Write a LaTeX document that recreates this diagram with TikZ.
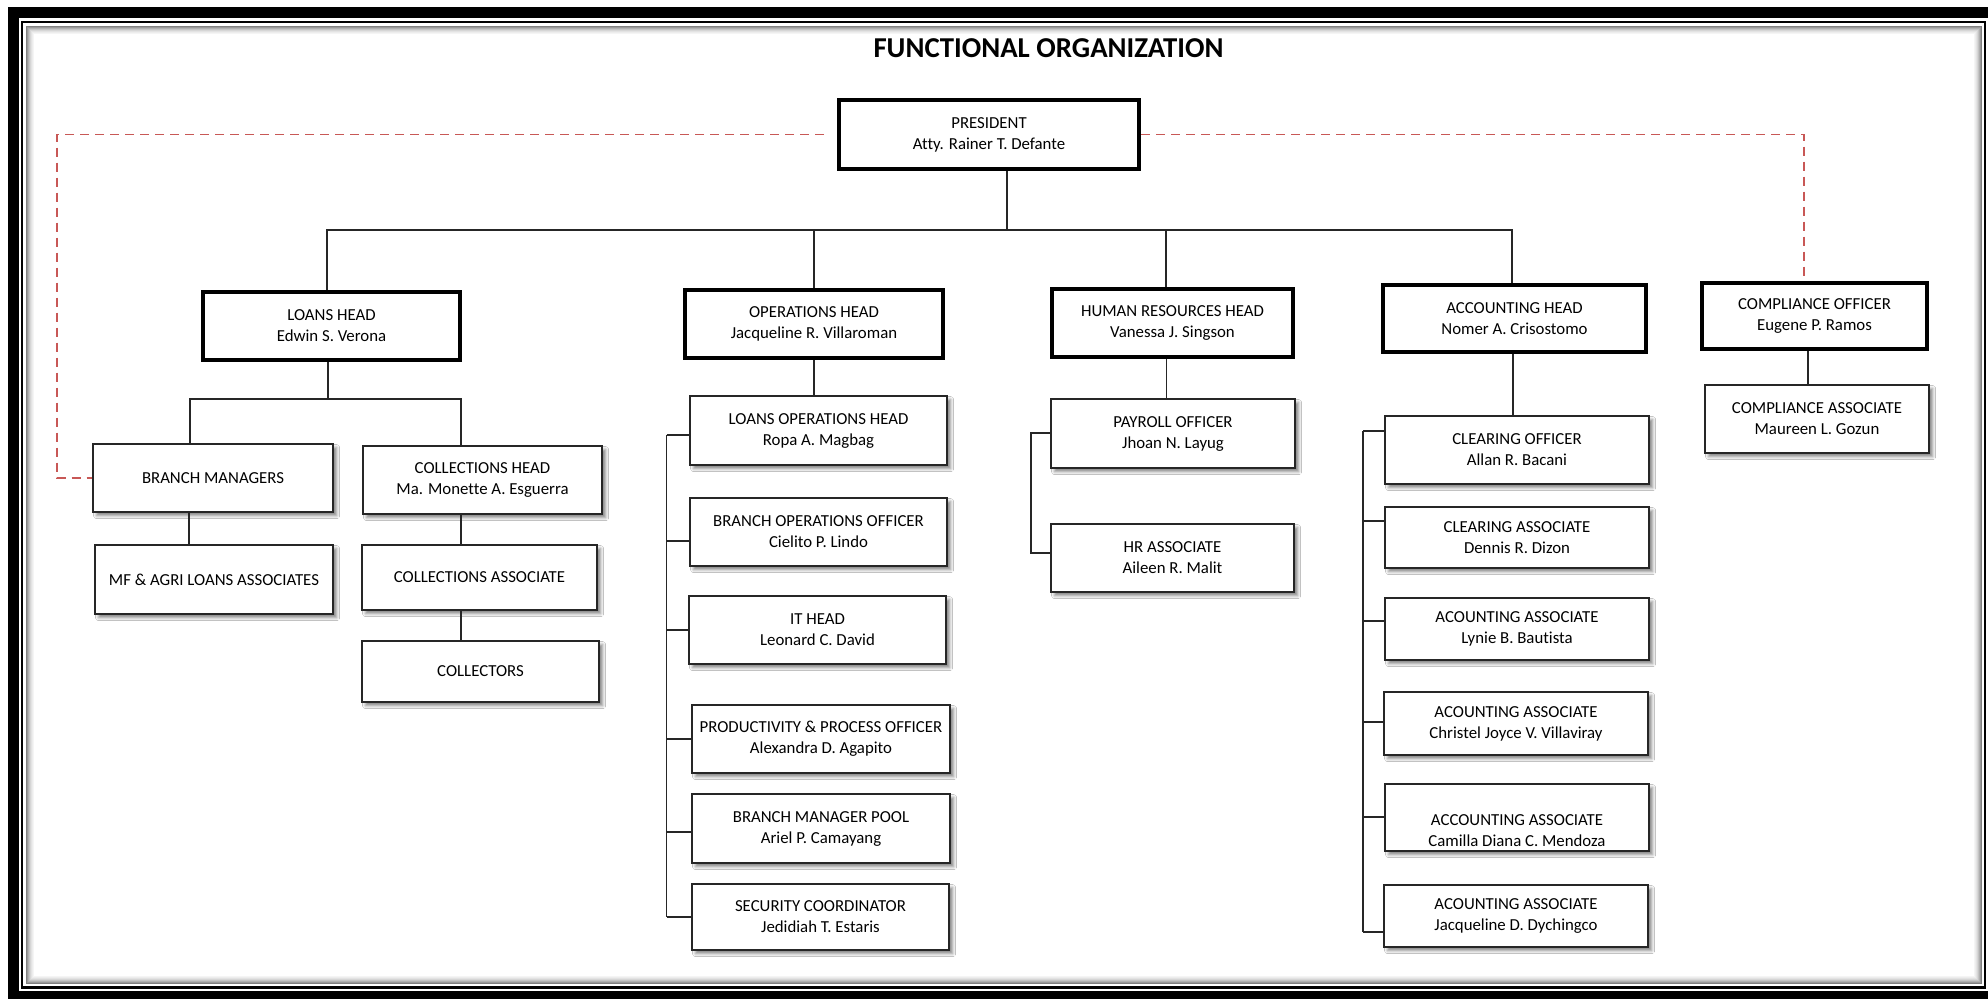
\documentclass[tikz,border=0pt]{standalone}
\usepackage{fontspec}
\setmainfont{Carlito}[Ligatures=NoCommon]
\usetikzlibrary{calc,shadows.blur}
\definecolor{rdcol}{RGB}{200,88,86}
\newcommand\bxfont{\fontsize{8.4}{10.5}\selectfont}
\newcommand\ttlfont{\bfseries\fontsize{14.4}{17}\selectfont}
\newcommand\hbx[6]{%
  \pgfmathsetmacro\bw{(#4-#2)/2-1.8}%
  \pgfmathsetmacro\bh{(#5-#3)/2-1.8}%
  \node[hbox, minimum width=\bw pt, minimum height=\bh pt] (#1) at ({(#2+#4)/2},{(#3+#5)/2}) {#6};}
\newcommand\rbx[6]{%
  \pgfmathsetmacro\bw{(#4-#2)/2-0.8}%
  \pgfmathsetmacro\bh{(#5-#3)/2-0.8}%
  \node[rbox, minimum width=\bw pt, minimum height=\bh pt] (#1) at ({(#2+#4)/2},{(#3+#5)/2}) {#6};}
\tikzset{
  hbox/.style={draw=black, line width=1.8pt, fill=white, align=center, inner sep=0pt, font=\bxfont},
  rbox/.style={draw=black!85, line width=0.8pt, fill=white, align=center, inner sep=0pt, font=\bxfont,
    blur shadow={shadow xshift=1.8pt, shadow yshift=-1.8pt, shadow blur radius=1.4pt, shadow opacity=45}},
  conn/.style={draw=black!85, line width=0.65pt},
  rdash/.style={draw=rdcol, line width=0.75pt, dash pattern=on 4.5pt off 3pt},
  framethick/.style={draw=black, line width=5.5pt},
  framethin/.style={draw=black, line width=1.25pt},
}
\begin{document}
\begin{tikzpicture}[x=0.5pt, y=-0.5pt]
\useasboundingbox (0,0) rectangle (1988,998);
\fill[white] (0,0) rectangle (1988,998);
% ---------- frame ----------
\begin{scope}
  \clip (0,0) rectangle (1988,998);
  \draw[framethick] (13.5,12.5) rectangle (1993.5,996.5);
  \draw[framethin] (22,22) rectangle (1985,987.5);
  \foreach \d/\g in {4/50,5/40,6/31,7/23,8/16,9/11,10/7,11/4}
    \draw[draw=black!\g, line width=0.5pt] (22+\d,22+\d) rectangle (1985-\d,987.5-\d);
\end{scope}
% ---------- title ----------
\node[font=\ttlfont, inner sep=0pt] (title) at (1048.5,48) {FUNCTIONAL ORGANIZATION};
% ---------- head boxes ----------
\hbx{pres}{837}{98}{1141}{171}{PRESIDENT\\Atty. Rainer T. Defante}
\hbx{loans}{201}{290}{462}{362}{LOANS HEAD\\Edwin S. Verona}
\hbx{ops}{683}{288}{945}{360}{OPERATIONS HEAD\\Jacqueline R. Villaroman}
\hbx{hr}{1050}{287}{1295}{359}{HUMAN RESOURCES HEAD\\Vanessa J. Singson}
\hbx{acc}{1381}{283}{1648}{354}{ACCOUNTING HEAD\\Nomer A. Crisostomo}
\hbx{comp}{1700}{281}{1929}{351}{COMPLIANCE OFFICER\\Eugene P. Ramos}
% ---------- loans branch ----------
\rbx{bm}{92}{443}{334}{513}{BRANCH MANAGERS}
\rbx{colh}{362}{445}{603}{515}{COLLECTIONS HEAD\\Ma. Monette A. Esguerra}
\rbx{mf}{94}{544}{334}{615}{MF \& AGRI LOANS ASSOCIATES}
\rbx{cola}{361}{544}{598}{611}{COLLECTIONS ASSOCIATE}
\rbx{coll}{361}{640}{600}{703}{COLLECTORS}
% ---------- operations branch ----------
\rbx{op1}{689}{395}{948}{466}{LOANS OPERATIONS HEAD\\Ropa A. Magbag}
\rbx{op2}{689}{497}{948}{567}{BRANCH OPERATIONS OFFICER\\Cielito P. Lindo}
\rbx{op3}{688}{595}{947}{665}{IT HEAD\\Leonard C. David}
\rbx{op4}{691}{704}{951}{774}{PRODUCTIVITY \& PROCESS OFFICER\\Alexandra D. Agapito}
\rbx{op5}{691}{793}{951}{864}{BRANCH MANAGER POOL\\Ariel P. Camayang}
\rbx{op6}{691}{883}{950}{951}{SECURITY COORDINATOR\\Jedidiah T. Estaris}
% ---------- HR branch ----------
\rbx{hr1}{1050}{398}{1296}{469}{PAYROLL OFFICER\\Jhoan N. Layug}
\rbx{hr2}{1050}{523}{1295}{593}{HR ASSOCIATE\\Aileen R. Malit}
% ---------- accounting branch ----------
\rbx{ac1}{1384}{415}{1650}{485}{CLEARING OFFICER\\Allan R. Bacani}
\rbx{ac2}{1384}{506}{1650}{569}{CLEARING ASSOCIATE\\Dennis R. Dizon}
\rbx{ac3}{1384}{597}{1650}{661}{ACOUNTING ASSOCIATE\\Lynie B. Bautista}
\rbx{ac4}{1383}{691}{1649}{756}{ACOUNTING ASSOCIATE\\Christel Joyce V. Villaviray}
\rbx{ac5}{1384}{783}{1650}{852}{}
\node[font=\bxfont, align=center, inner sep=0pt] (ac5t) at ($(ac5.center)+(0,13)$) {ACCOUNTING ASSOCIATE\\Camilla Diana C. Mendoza};
\rbx{ac6}{1383}{884}{1649}{948}{ACOUNTING ASSOCIATE\\Jacqueline D. Dychingco}
% ---------- compliance ----------
\rbx{ca}{1704}{384}{1930}{454}{COMPLIANCE ASSOCIATE\\Maureen L. Gozun}
% ---------- main bus ----------
\coordinate (bus) at (1007,230);
\coordinate (busL) at (327,230);
\coordinate (busR) at (1512,230);
\coordinate (busO) at (814,230);
\coordinate (busH) at (1166,230);
\draw[conn] (pres.south -| bus) -- (bus);
\draw[conn] (loans.north -| busL) -- (busL) -- (busR) -- (acc.north -| busR);
\draw[conn] (busO) -- (ops.north -| busO);
\draw[conn] (busH) -- (hr.north -| busH);
% ---------- loans sub tree ----------
\coordinate (lb) at (328,399);
\coordinate (lbL) at (190,399);
\coordinate (lbR) at (461,399);
\draw[conn] (loans.south -| lb) -- (lb);
\draw[conn] (bm.north -| lbL) -- (lbL) -- (lbR) -- (colh.north -| lbR);
\coordinate (bmx) at (189,0);
\draw[conn] (bm.south -| bmx) -- (mf.north -| bmx);
\coordinate (clx) at (461,0);
\draw[conn] (colh.south -| clx) -- (cola.north -| clx);
\draw[conn] (cola.south -| clx) -- (coll.north -| clx);
% ---------- operations ----------
\coordinate (opx) at (814,0);
\draw[conn] (ops.south -| opx) -- (op1.north -| opx);
\coordinate (opsT) at (666.5,435);
\coordinate (opsB) at (666.5,917);
\draw[conn] (opsT) -- (opsB);
\foreach \n/\yy in {op1/435,op2/541,op3/630,op4/739,op5/832,op6/917}
  \draw[conn] (opsT |- 0,\yy) -- (\n.west |- 0,\yy);
% ---------- HR ----------
\coordinate (hrx) at (1166.5,0);
\draw[conn] (hr.south -| hrx) -- (hr1.north -| hrx);
\coordinate (hrT) at (1031,433);
\coordinate (hrB) at (1031,553);
\draw[conn] (hr1.west |- hrT) -- (hrT) -- (hrB) -- (hr2.west |- hrB);
% ---------- accounting ----------
\coordinate (acx) at (1513,0);
\draw[conn] (acc.south -| acx) -- (ac1.north -| acx);
\coordinate (acT) at (1363,431);
\coordinate (acB) at (1363,932);
\draw[conn] (acT) -- (acB);
\foreach \n/\yy in {ac1/431,ac2/521,ac3/621,ac4/722,ac5/817,ac6/932}
  \draw[conn] (acT |- 0,\yy) -- (\n.west |- 0,\yy);
% ---------- compliance ----------
\coordinate (cox) at (1808,0);
\draw[conn] (comp.south -| cox) -- (ca.north -| cox);
% ---------- dashed staff lines ----------
\coordinate (rl) at (57,300);
\coordinate (rr) at (1804,300);
\draw[rdash, shorten <=6.5pt] (pres.west) -| (rl) |- (bm.west);
\draw[rdash] (pres.east) -| (comp.north -| rr);
\end{tikzpicture}
\end{document}
